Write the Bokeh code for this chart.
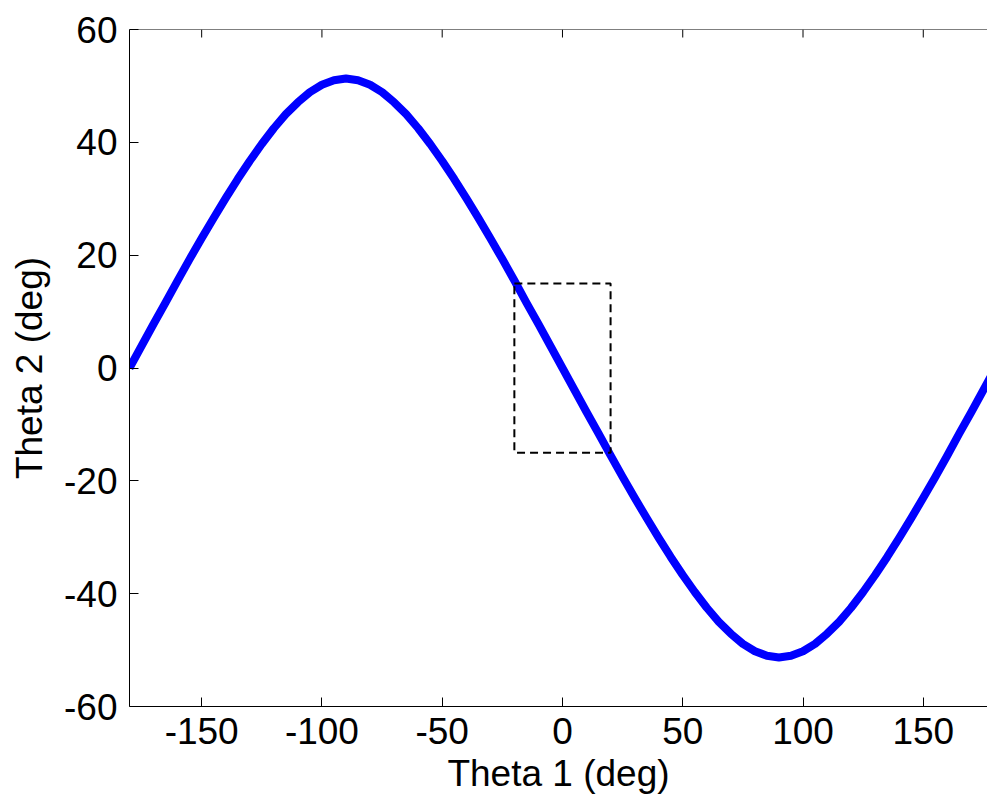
from bokeh.plotting import figure
from bokeh.models import Range1d, FixedTicker, Span
from bokeh.embed import file_html
from bokeh.resources import INLINE

# Data
theta1 = [-180, -175, -170, -165, -160, -155, -150, -145, -140, -135, -130, -125,
          -120, -115, -110, -105, -100, -95, -90, -85, -80, -75, -70, -65,
          -60, -55, -50, -45, -40, -35, -30, -25, -20, -15, -10, -5,
          0, 5, 10, 15, 20, 25, 30, 35, 40, 45, 50, 55,
          60, 65, 70, 75, 80, 85, 90, 95, 100, 105, 110, 115,
          120, 125, 130, 135, 140, 145, 150, 155, 160, 165, 170, 175, 180]
theta2 = [0.0, 3.9, 7.8, 11.6, 15.5, 19.3, 23.0, 26.6, 30.1, 33.5, 36.7, 39.7,
          42.5, 45.0, 47.1, 48.9, 50.2, 51.0, 51.3, 51.0, 50.2, 48.9, 47.1, 45.0,
          42.5, 39.7, 36.7, 33.5, 30.1, 26.6, 23.0, 19.3, 15.5, 11.6, 7.8, 3.9,
          0.0, -3.9, -7.8, -11.6, -15.5, -19.3, -23.0, -26.6, -30.1, -33.5, -36.7, -39.7,
          -42.5, -45.0, -47.1, -48.9, -50.2, -51.0, -51.3, -51.0, -50.2, -48.9, -47.1, -45.0,
          -42.5, -39.7, -36.7, -33.5, -30.1, -26.6, -23.0, -19.3, -15.5, -11.6, -7.8, -3.9, 0.0]
box_x = [-20, 20]
box_y = [-15, 15]
x_ticks = [-150, -100, -50, 0, 50, 100, 150]
x_tick_labels = ["-150", "-100", "-50", "0", "50", "100", "150"]
y_ticks = [-60, -40, -20, 0, 20, 40, 60]
y_tick_labels = ["-60", "-40", "-20", "0", "20", "40", "60"]
x_lim = (-180, 176.7)
y_lim = (-60, 60)

FONT = "Liberation Sans"
FS = "37px"

p = figure(width=987, height=797, output_backend="svg", toolbar_location=None,
           x_range=Range1d(*x_lim), y_range=Range1d(*y_lim),
           min_border_left=129, min_border_top=29, min_border_right=0,
           min_border_bottom=91)
p.outline_line_color = None
p.xgrid.visible = False
p.ygrid.visible = False
p.background_fill_color = "white"
p.border_fill_color = "white"

p.line(theta1, theta2, line_color="#0000ff", line_width=8, line_join="round")
p.quad(left=box_x[0], right=box_x[1], bottom=box_y[0], top=box_y[1],
       fill_color=None, line_color="black", line_width=2, line_dash="8 5")

# top frame edge with inward ticks (no labels)
p.add_layout(Span(location=y_lim[1], dimension="width", line_color="black", line_width=1))
tick_len = 8 * (y_lim[1] - y_lim[0]) / 677.0
p.segment(x0=x_ticks, x1=x_ticks, y0=[y_lim[1]] * len(x_ticks),
          y1=[y_lim[1] - tick_len] * len(x_ticks), line_color="black", line_width=1)

def style(ax, tick_in):
    ax.axis_line_color = "black"
    ax.axis_line_width = 1
    ax.major_tick_in = tick_in
    ax.major_tick_out = 0
    ax.major_tick_line_color = "black"
    ax.minor_tick_line_color = None
    ax.major_label_text_font = FONT
    ax.major_label_text_font_size = FS
    ax.major_label_text_color = "black"
    ax.axis_label_text_font = FONT
    ax.axis_label_text_font_size = FS
    ax.axis_label_text_font_style = "normal"
    ax.axis_label_text_color = "black"

xa = p.xaxis[0]
style(xa, 9)
xa.ticker = FixedTicker(ticks=x_ticks)
xa.major_label_overrides = dict(zip(x_ticks, x_tick_labels))
xa.axis_label = "Theta 1 (deg)"
xa.major_label_standoff = 11
xa.axis_label_standoff = 6
xa.axis_label_text_line_height = 0.8

ya = p.yaxis[0]
style(ya, 9)
ya.ticker = FixedTicker(ticks=y_ticks)
ya.major_label_overrides = dict(zip(y_ticks, y_tick_labels))
ya.axis_label = "Theta 2 (deg)"
ya.major_label_standoff = 12
ya.axis_label_standoff = 11

open("out.html", "w").write(file_html(p, INLINE))
